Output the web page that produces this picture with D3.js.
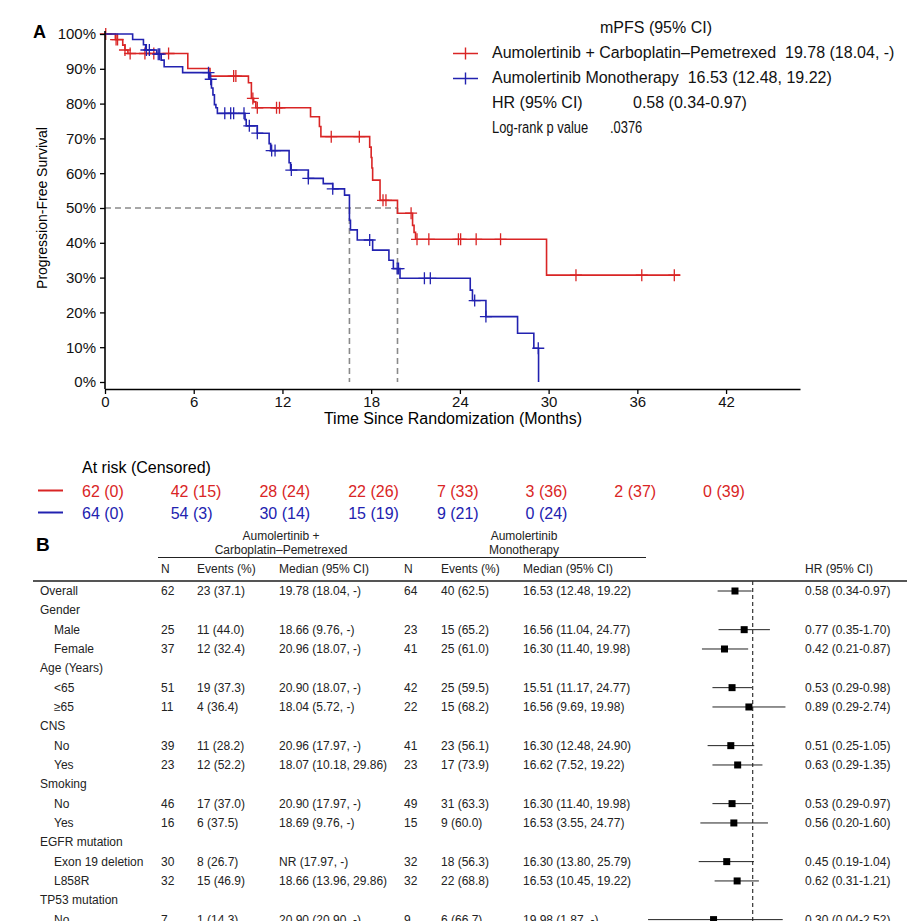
<!DOCTYPE html>
<html>
<head>
<meta charset="utf-8">
<script src="https://cdn.jsdelivr.net/npm/d3@7"></script>
<style>
  html, body { margin: 0; padding: 0; background: #fff; overflow: hidden; }
  svg { display: block; font-family: "Liberation Sans", Arial, sans-serif; }
</style>
</head>
<body>
<div id="chart"></div>
<script>
// Kaplan-Meier steps (months, survival %)
var redTimes = [0, 0.7, 1.2, 1.35, 1.55, 5.6, 7.1, 9.7, 9.9, 10.05, 10.2, 13.9, 14.5, 14.6, 17.9, 18.0, 18.05, 18.1, 18.6, 19.78, 20.8, 20.9, 21.0, 29.86, 38.9];
var redSurv  = [100, 98.4, 96.8, 95.4, 94.4, 90.1, 87.9, 86.0, 81.5, 80.5, 78.8, 76.2, 73.4, 70.5, 67.5, 64.5, 61.5, 58.0, 52.2, 48.5, 45.0, 43.0, 41.0, 30.7, 30.7];
var blueTimes = [0, 1.87, 2.6, 2.75, 3.5, 3.8, 4.0, 5.25, 7.05, 7.2, 7.3, 7.4, 7.5, 7.6, 9.47, 9.55, 10.3, 11.1, 11.2, 12.45, 12.55, 13.75, 14.76, 15.4, 16.2, 16.53, 16.6, 17.06, 18.1, 19.2, 19.5, 19.95, 24.7, 24.85, 25.76, 27.9, 29.0, 29.32];
var blueSurv  = [100, 98.4, 96.9, 95.4, 94.2, 92.5, 90.6, 88.9, 87.0, 84.5, 82.5, 79.7, 78.8, 77.2, 75.4, 73.6, 71.5, 68.5, 66.5, 63.0, 60.9, 58.5, 57.0, 55.5, 53.7, 46.5, 43.7, 40.8, 37.9, 35.0, 32.6, 29.8, 26.4, 23.4, 18.8, 14.0, 9.7, 0];

// censoring times (months)
var redCensor = [0.05, 0.75, 0.85, 1.35, 1.7, 2.7, 3.3, 4.3, 8.7, 8.85, 10.0, 10.3, 11.6, 11.8, 15.3, 17.2, 18.8, 19.0, 20.7, 21.1, 21.9, 23.9, 24.05, 25.1, 26.75, 31.85, 36.3, 38.5];
var blueCensor = [2.8, 3.0, 3.6, 3.7, 7.0, 7.15, 8.1, 8.5, 8.7, 9.4, 9.76, 10.3, 11.27, 11.5, 12.6, 13.75, 15.4, 17.9, 19.76, 19.85, 21.6, 22.0, 25.0, 25.76, 29.3];

var medians = [16.53, 19.78];
var xTicks = [0, 6, 12, 18, 24, 30, 36, 42];
var yTicks = [0, 0.1, 0.2, 0.3, 0.4, 0.5, 0.6, 0.7, 0.8, 0.9, 1];

// number at risk (censored)
var riskTimes = [0, 6, 12, 18, 24, 30, 36, 42];
var redRisk = ["62 (0)", "42 (15)", "28 (24)", "22 (26)", "7 (33)", "3 (36)", "2 (37)", "0 (39)"];
var blueRisk = ["64 (0)", "54 (3)", "30 (14)", "15 (19)", "9 (21)", "0 (24)"];

// subgroup table
var rowLabels = ["Overall", "Gender", "Male", "Female", "Age (Years)", "<65", "\u226565", "CNS", "No", "Yes",
                 "Smoking", "No", "Yes", "EGFR mutation", "Exon 19 deletion", "L858R", "TP53 mutation", "No"];
var rowIndent = [0, 0, 1, 1, 0, 1, 1, 0, 1, 1, 0, 1, 1, 0, 1, 1, 0, 1];
var nComb   = [62, null, 25, 37, null, 51, 11, null, 39, 23, null, 46, 16, null, 30, 32, null, 7];
var evComb  = ["23 (37.1)", "", "11 (44.0)", "12 (32.4)", "", "19 (37.3)", "4 (36.4)", "", "11 (28.2)", "12 (52.2)",
               "", "17 (37.0)", "6 (37.5)", "", "8 (26.7)", "15 (46.9)", "", "1 (14.3)"];
var medComb = ["19.78 (18.04, -)", "", "18.66 (9.76, -)", "20.96 (18.07, -)", "", "20.90 (18.07, -)", "18.04 (5.72, -)", "",
               "20.96 (17.97, -)", "18.07 (10.18, 29.86)", "", "20.90 (17.97, -)", "18.69 (9.76, -)", "",
               "NR (17.97, -)", "18.66 (13.96, 29.86)", "", "20.90 (20.90, -)"];
var nMono   = [64, null, 23, 41, null, 42, 22, null, 41, 23, null, 49, 15, null, 32, 32, null, 9];
var evMono  = ["40 (62.5)", "", "15 (65.2)", "25 (61.0)", "", "25 (59.5)", "15 (68.2)", "", "23 (56.1)", "17 (73.9)",
               "", "31 (63.3)", "9 (60.0)", "", "18 (56.3)", "22 (68.8)", "", "6 (66.7)"];
var medMono = ["16.53 (12.48, 19.22)", "", "16.56 (11.04, 24.77)", "16.30 (11.40, 19.98)", "", "15.51 (11.17, 24.77)",
               "16.56 (9.69, 19.98)", "", "16.30 (12.48, 24.90)", "16.62 (7.52, 19.22)", "", "16.30 (11.40, 19.98)",
               "16.53 (3.55, 24.77)", "", "16.30 (13.80, 25.79)", "16.53 (10.45, 19.22)", "", "19.98 (1.87, -)"];
var hrEst  = [0.58, null, 0.77, 0.42, null, 0.53, 0.89, null, 0.51, 0.63, null, 0.53, 0.56, null, 0.45, 0.62, null, 0.30];
var hrLow  = [0.34, null, 0.35, 0.21, null, 0.29, 0.29, null, 0.25, 0.29, null, 0.29, 0.20, null, 0.19, 0.31, null, 0.04];
var hrHigh = [0.97, null, 1.70, 0.87, null, 0.98, 2.74, null, 1.05, 1.35, null, 0.97, 1.60, null, 1.04, 1.21, null, 2.52];

var red = "#d92525", blue = "#2222b0";
var W = 921, H = 921;

var svg = d3.select("#chart").append("svg")
    .attr("width", W)
    .attr("height", H);

// ---------------- Panel A ----------------
svg.append("text").attr("x", 33).attr("y", 38)
    .attr("font-size", 18).attr("font-weight", "bold").text("A");

var x = d3.scaleLinear().domain([0, 47]).range([105, 800]);
var y = d3.scaleLinear().domain([0, 1]).range([382, 34]);

// median reference lines
var dash = svg.append("g").attr("stroke", "#8a8a8a").attr("stroke-width", 1.6)
    .attr("stroke-dasharray", "6,4").attr("fill", "none");
dash.append("line").attr("x1", x(0)).attr("x2", x(d3.max(medians)))
    .attr("y1", y(0.5)).attr("y2", y(0.5));
medians.forEach(function (m) {
    dash.append("line").attr("x1", x(m)).attr("x2", x(m))
        .attr("y1", y(0.5)).attr("y2", y(0));
});

var line = d3.line()
    .x(d => x(d[0]))
    .y(d => y(d[1] / 100))
    .curve(d3.curveStepAfter);

function survAt(times, surv, t) {
    var i = d3.bisectRight(times, t) - 1;
    return surv[Math.max(0, i)];
}

function drawCurve(times, surv, censor, color) {
    var pts = times.map((t, i) => [t, surv[i]]);
    svg.append("path")
        .attr("d", line(pts))
        .attr("fill", "none")
        .attr("stroke", color)
        .attr("stroke-width", 1.6);
    svg.append("g").selectAll("path")
        .data(censor)
        .enter().append("path")
        .attr("transform", t => "translate(" + x(t) + "," + y(survAt(times, surv, t) / 100) + ")")
        .attr("d", "M-6,0H6M0,-6V6")
        .attr("stroke", color)
        .attr("stroke-width", 1.3)
        .attr("fill", "none");
}

drawCurve(redTimes, redSurv, redCensor, red);
drawCurve(blueTimes, blueSurv, blueCensor, blue);

// axes
var yAxis = svg.append("g")
    .attr("transform", "translate(105,0)")
    .call(d3.axisLeft(y).tickValues(yTicks).tickFormat(d3.format(".0%")).tickSize(5).tickPadding(4).tickSizeOuter(0));
yAxis.select(".domain").remove();
yAxis.append("line").attr("x1", 0).attr("x2", 0).attr("y1", 31).attr("y2", 389)
    .attr("stroke", "#000").attr("stroke-width", 1.6);

var xAxis = svg.append("g")
    .attr("transform", "translate(0,389)")
    .call(d3.axisBottom(x).tickValues(xTicks).tickSize(5).tickPadding(2).tickSizeOuter(0));
xAxis.select(".domain").attr("stroke-width", 1.6);

svg.selectAll(".tick text").attr("font-size", 15).attr("fill", "#111")
    .attr("font-family", "Liberation Sans, Arial, sans-serif");
svg.selectAll(".tick line").attr("stroke-width", 1.3);

svg.append("text")
    .attr("x", 453).attr("y", 424)
    .attr("text-anchor", "middle")
    .attr("font-size", 16)
    .text("Time Since Randomization (Months)");

svg.append("text")
    .attr("transform", "translate(47,208) rotate(-90)")
    .attr("text-anchor", "middle")
    .attr("font-size", 14)
    .text("Progression-Free Survival");

// legend
var leg = svg.append("g").attr("font-size", 16).attr("fill", "#111");
leg.append("text").attr("x", 656).attr("y", 33).attr("text-anchor", "middle").text("mPFS (95% CI)");
[[red, 53.5, "Aumolertinib + Carboplatin\u2013Pemetrexed  19.78 (18.04, -)"],
 [blue, 78.5, "Aumolertinib Monotherapy  16.53 (12.48, 19.22)"]].forEach(function (d) {
    leg.append("path")
        .attr("d", "M453," + d[1] + "H478M465.5," + (d[1] - 6) + "V" + (d[1] + 6))
        .attr("stroke", d[0]).attr("stroke-width", 1.4);
    leg.append("text").attr("x", 492).attr("y", d[1] + 4.5)
        .style("white-space", "pre").text(d[2]);
});
leg.append("text").attr("x", 492).attr("y", 108).text("HR (95% CI)");
leg.append("text").attr("x", 633).attr("y", 108).text("0.58 (0.34-0.97)");
// narrow lettering for the log-rank line
leg.append("text").attr("transform", "translate(492,133) scale(0.76,1)")
    .attr("font-size", 17).text("Log-rank p value");
leg.append("text").attr("transform", "translate(610,133) scale(0.76,1)")
    .attr("font-size", 17).text(".0376");

// at risk table
svg.append("text").attr("x", 82).attr("y", 473).attr("font-size", 16).text("At risk (Censored)");
[[red, redRisk, 490.5], [blue, blueRisk, 512.5]].forEach(function (d) {
    svg.append("line").attr("x1", 38).attr("x2", 63).attr("y1", d[2]).attr("y2", d[2])
        .attr("stroke", d[0]).attr("stroke-width", 2);
    svg.append("g").selectAll("text")
        .data(d[1])
        .enter().append("text")
        .attr("x", (s, i) => x(riskTimes[i]) - 23)
        .attr("y", d[2] + 6)
        .attr("font-size", 16)
        .attr("fill", d[0])
        .text(s => s);
});

// ---------------- Panel B ----------------
svg.append("text").attr("x", 36).attr("y", 551)
    .attr("font-size", 19).attr("font-weight", "bold").text("B");

var tb = svg.append("g").attr("font-size", 12).attr("fill", "#222");

tb.append("text").attr("x", 281).attr("y", 540).attr("text-anchor", "middle").text("Aumolertinib +");
tb.append("text").attr("x", 281).attr("y", 553.5).attr("text-anchor", "middle").text("Carboplatin\u2013Pemetrexed");
tb.append("text").attr("x", 524).attr("y", 540).attr("text-anchor", "middle").text("Aumolertinib");
tb.append("text").attr("x", 524).attr("y", 553.5).attr("text-anchor", "middle").text("Monotherapy");
tb.append("line").attr("x1", 158).attr("x2", 646).attr("y1", 557.5).attr("y2", 557.5)
    .attr("stroke", "#222").attr("stroke-width", 1.2);

var colX = [161, 197, 279, 404, 441, 523];
var heads = ["N", "Events (%)", "Median (95% CI)", "N", "Events (%)", "Median (95% CI)"];
heads.forEach(function (h, i) {
    tb.append("text").attr("x", colX[i]).attr("y", 573).text(h);
});
tb.append("text").attr("x", 805).attr("y", 573).text("HR (95% CI)");
tb.append("line").attr("x1", 33).attr("x2", 907).attr("y1", 581).attr("y2", 581)
    .attr("stroke", "#555").attr("stroke-width", 1.8);

var rowY = d3.scaleLinear().domain([0, 1]).range([595, 614.33]);
var fx = d3.scaleLog().domain([0.03, 3]).range([638.7, 788.4]);

// reference line at HR = 1
svg.append("line").attr("x1", fx(1)).attr("x2", fx(1)).attr("y1", 581).attr("y2", H)
    .attr("stroke", "#333").attr("stroke-width", 1.2).attr("stroke-dasharray", "4,3");

var fmt = d3.format(".2f");
rowLabels.forEach(function (lab, i) {
    var yy = rowY(i);
    tb.append("text").attr("x", rowIndent[i] ? 54 : 40).attr("y", yy).text(lab);
    if (nComb[i] == null) return;
    [nComb[i], evComb[i], medComb[i], nMono[i], evMono[i], medMono[i]].forEach(function (v, j) {
        tb.append("text").attr("x", colX[j]).attr("y", yy).text(v);
    });
    tb.append("text").attr("x", 805).attr("y", yy)
        .text(fmt(hrEst[i]) + " (" + fmt(hrLow[i]) + "-" + fmt(hrHigh[i]) + ")");
    var cy = yy - 4;
    svg.append("line").attr("x1", fx(hrLow[i])).attr("x2", fx(hrHigh[i]))
        .attr("y1", cy).attr("y2", cy).attr("stroke", "#222").attr("stroke-width", 1);
    svg.append("rect").attr("x", fx(hrEst[i]) - 3.5).attr("y", cy - 3.5)
        .attr("width", 7).attr("height", 7).attr("fill", "#000");
});
</script>
</body>
</html>
